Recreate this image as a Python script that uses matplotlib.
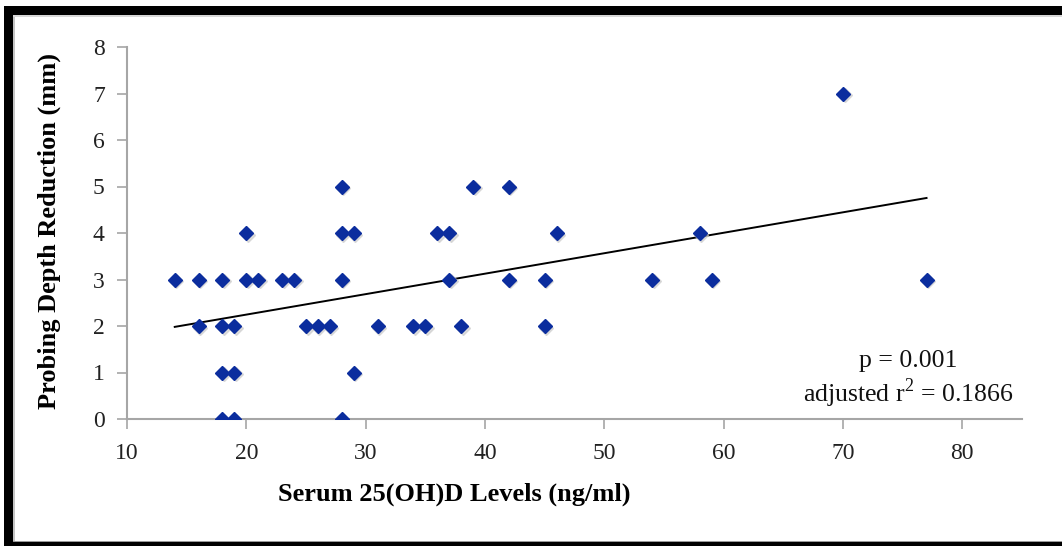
import numpy as np
import matplotlib
matplotlib.use("Agg")
import matplotlib.pyplot as plt
from matplotlib.patches import Rectangle
from matplotlib.transforms import Affine2D

# Serum 25(OH)D level (ng/ml) vs probing depth reduction (mm)
serum_vitd = [14, 16, 16, 18, 18, 18, 18, 19, 19, 19, 20, 20, 21, 23, 24,
              25, 26, 27, 28, 28, 28, 28, 29, 29, 31, 34, 35, 36, 37, 37,
              38, 39, 42, 42, 45, 45, 46, 54, 58, 59, 70, 77]
depth_reduction = [3, 3, 2, 3, 2, 1, 0, 2, 1, 0, 4, 3, 3, 3, 3,
                   2, 2, 2, 5, 4, 3, 0, 4, 1, 2, 2, 2, 4, 4, 3,
                   2, 5, 5, 3, 3, 2, 4, 3, 4, 3, 7, 3]

x_ticks = [10, 20, 30, 40, 50, 60, 70, 80]
y_ticks = [0, 1, 2, 3, 4, 5, 6, 7, 8]
stats_text = "p = 0.001\nadjusted r$^2$ = 0.1866"

MARKER_BLUE = "#0b2d9e"
AXIS_GRAY = "#a6a6a6"
W, H = 1062, 546

plt.rcParams["font.family"] = ["Liberation Serif", "DejaVu Serif"]
plt.rcParams["mathtext.fontset"] = "custom"
plt.rcParams["mathtext.rm"] = "Liberation Serif"

fig = plt.figure(figsize=(W / 100, H / 100), dpi=100)
fig.patch.set_facecolor("white")
ax = fig.add_axes([127 / W, 1 - 419 / H, (1022 - 127) / W, (419 - 47) / H])

x = np.array(serum_vitd, dtype=float)
y = np.array(depth_reduction, dtype=float)

# linear trendline fitted to the points, drawn over the data range
slope, intercept = np.polyfit(x, y, 1)
xs = np.array([x.min(), x.max()])
ax.plot(xs, slope * xs + intercept, color="black", linewidth=1.4, zorder=2)

# soft shadow under each marker, then the marker itself
ax.plot(x, y, linestyle="none", marker="D", markersize=7.5,
        color="#c8c8c8", alpha=0.6, zorder=2,
        transform=ax.transData + Affine2D().translate(1.5, -1.5))
ax.plot(x, y, linestyle="none", marker="D", markersize=7,
        color=MARKER_BLUE, zorder=3)

ax.set_xlim(10, 85)
ax.set_ylim(0, 8)
ax.set_xticks(x_ticks)
ax.set_yticks(y_ticks)
ax.tick_params(axis="both", direction="out", length=7, width=1.2,
               color=AXIS_GRAY, labelsize=17, labelcolor="#222222")
ax.tick_params(axis="x", pad=10)
ax.tick_params(axis="y", pad=9)

for side in ("top", "right"):
    ax.spines[side].set_visible(False)
for side in ("left", "bottom"):
    ax.spines[side].set_color(AXIS_GRAY)
    ax.spines[side].set_linewidth(1.5)

fig.text(908 / W, 1 - 380 / H, stats_text, ha="center", va="center",
         fontsize=18.5, linespacing=1.15, color="#111111")

fig.text(454 / W, 1 - 494 / H, "Serum 25(OH)D Levels (ng/ml)",
         ha="center", va="center", fontsize=19, fontweight="bold")
fig.text(49 / W, 1 - 231 / H, "Probing Depth Reduction (mm)",
         ha="center", va="center", rotation=90, fontsize=19, fontweight="bold")

# black frame (cropped on the right) with a thin grey inner edge
for x0, y0, x1, y1, col in [(4, 6, 13, 546, "black"), (4, 6, W, 15, "black"),
                            (4, 542, W, 546, "black"), (13, 15, 15, 542, "#c4c4c4"),
                            (13, 15, W, 16.5, "#d8d8d8"), (13, 540.5, W, 542, "#9a9a9a")]:
    fig.patches.append(Rectangle((x0 / W, 1 - y1 / H), (x1 - x0) / W, (y1 - y0) / H,
                                 transform=fig.transFigure, facecolor=col,
                                 edgecolor="none", zorder=5))

fig.savefig("out.png", dpi=100, facecolor="white")
